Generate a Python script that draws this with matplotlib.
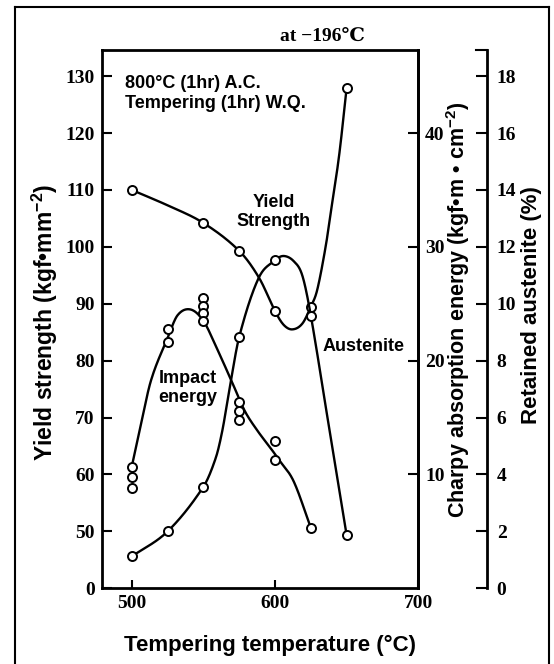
import numpy as np
import matplotlib
matplotlib.use("Agg")
import matplotlib.pyplot as plt
from matplotlib.lines import Line2D

# ---------------- data ----------------
# Yield strength (kgf/mm2) measured points
yield_T = [500, 550, 575, 600, 625, 650]
yield_V = [110.0, 104.2, 99.3, 88.7, 89.5, 128.0]
# hand-drawn yield strength curve, nodes
yield_curve_T = [500, 525, 550, 575, 589, 600, 606, 612, 619, 625, 629.4, 635.3, 638.8, 644.7, 650]
yield_curve_V = [110.0, 107.3, 104.2, 99.3, 94.5, 88.7, 86.3, 85.5, 86.5, 89.5, 92.4, 100.0, 105.9, 116.0, 128.0]

# Charpy absorption energy at -196 C (kgf.m/cm2) measured points
impact_T = [500, 500, 500, 525, 525, 550, 550, 550, 550, 575, 575, 575, 600, 600, 625]
impact_C = [10.7, 9.75, 8.85, 22.75, 21.65, 25.5, 24.8, 24.2, 23.5, 16.4, 15.6, 14.75, 12.9, 11.25, 5.3]
impact_curve_T = [500, 506, 513.5, 525, 532, 541, 550, 558.6, 569.7, 578.8, 588, 597, 603, 613, 625]
impact_curve_C = [10.7, 14.2, 18.3, 22.0, 24.0, 24.5, 23.5, 21.3, 18.2, 15.6, 13.8, 12.3, 11.25, 9.4, 5.3]

# Retained austenite (%) measured points
aust_T = [500, 525, 550, 575, 600, 625, 650]
aust_A = [1.12, 2.0, 3.57, 8.84, 11.53, 9.58, 1.86]
aust_curve_T = [500, 525, 550, 558.6, 563.2, 568, 575, 588.5, 600, 606, 613, 619, 625, 637.5, 650]
aust_curve_A = [1.12, 2.0, 3.57, 4.58, 5.54, 6.94, 8.84, 10.9, 11.53, 11.68, 11.5, 11.0, 9.58, 5.72, 1.86]

x_ticks = [500, 600, 700]
yield_ticks = [40, 50, 60, 70, 80, 90, 100, 110, 120, 130]
yield_tick_labels = ["0", "50", "60", "70", "80", "90", "100", "110", "120", "130"]
charpy_ticks = [10, 20, 30, 40]
aust_ticks = [0, 2, 4, 6, 8, 10, 12, 14, 16, 18]


def smooth(xn, yn, n=40):
    xn = np.asarray(xn, float)
    yn = np.asarray(yn, float)
    m = np.zeros_like(yn)
    m[1:-1] = (yn[2:] - yn[:-2]) / (xn[2:] - xn[:-2])
    m[0] = (yn[1] - yn[0]) / (xn[1] - xn[0])
    m[-1] = (yn[-1] - yn[-2]) / (xn[-1] - xn[-2])
    xs, ys = [], []
    for i in range(len(xn) - 1):
        h = xn[i + 1] - xn[i]
        t = np.linspace(0, 1, n, endpoint=False)
        h00 = 2 * t**3 - 3 * t**2 + 1
        h10 = t**3 - 2 * t**2 + t
        h01 = -2 * t**3 + 3 * t**2
        h11 = t**3 - t**2
        xs.append(xn[i] + t * h)
        ys.append(h00 * yn[i] + h10 * h * m[i] + h01 * yn[i + 1] + h11 * h * m[i + 1])
    xs.append([xn[-1]])
    ys.append([yn[-1]])
    return np.concatenate(xs), np.concatenate(ys)


plt.rcParams["mathtext.fontset"] = "custom"
plt.rcParams["mathtext.rm"] = "Liberation Sans:bold"
plt.rcParams["mathtext.bf"] = "Liberation Sans:bold"
plt.rcParams["mathtext.default"] = "bf"

W, H = 554, 664
fig = plt.figure(figsize=(W / 100, H / 100), dpi=100)


def px(x, y):
    return x / W, 1 - y / H


L, R, T, B = 101.7, 418.3, 50.0, 588.3
ax = fig.add_axes([L / W, 1 - B / H, (R - L) / W, (B - T) / H])
ax.set_xlim(479, 700)
ax.set_ylim(40, 134.6)
ax2 = ax.twinx()
ax2.set_ylim(0, 47.3)
ax3 = ax.twinx()
ax3.set_ylim(0, 18.92)
ax3.spines["right"].set_position(("axes", 1.217))

tickfont = dict(family=["Liberation Serif", "DejaVu Serif"], weight="bold", size=14)
labfont = dict(family=["Liberation Sans", "DejaVu Sans"], weight="bold")

for a in (ax, ax2, ax3):
    for s in a.spines.values():
        s.set_linewidth(2.0)
for s in ("top", "left", "bottom"):
    ax2.spines[s].set_visible(False)
    ax3.spines[s].set_visible(False)

ax.set_xticks(x_ticks)
ax.set_xticklabels([str(v) for v in x_ticks], fontdict=tickfont)
ax.set_yticks(yield_ticks)
ax.set_yticklabels(yield_tick_labels, fontdict=tickfont)
ax.tick_params(axis="both", direction="in", length=7, width=1.5, pad=5)
ax.tick_params(axis="x", length=6, pad=5)
ax.tick_params(right=False, top=False)

ax2.set_yticks(charpy_ticks)
ax2.set_yticklabels([str(v) for v in charpy_ticks], fontdict=tickfont)
ax2.tick_params(axis="y", direction="in", length=7, width=1.5, pad=5)

ax3.set_yticks(aust_ticks)
ax3.set_yticklabels([str(v) for v in aust_ticks], fontdict=tickfont)
ax3.tick_params(axis="y", direction="in", length=8, width=1.5, pad=7)
ax3.plot([1.217 - 0.035, 1.217], [1, 1], transform=ax3.transAxes, color="black",
         lw=1.5, clip_on=False)

# curves
lw = 1.7
xs, ys = smooth(yield_curve_T, yield_curve_V)
ax.plot(xs, ys, color="black", lw=lw, zorder=2)
xs, ys = smooth(impact_curve_T, impact_curve_C)
ax2.plot(xs, ys, color="black", lw=lw, zorder=2)
xs, ys = smooth(aust_curve_T, aust_curve_A)
ax3.plot(xs, ys, color="black", lw=lw, zorder=2)

mk = dict(marker="o", ls="none", mfc="white", mec="black", ms=6.5, mew=1.4, zorder=5, clip_on=False)
ax.plot(yield_T, yield_V, **mk)
ax2.plot(impact_T, impact_C, **mk)
ax3.plot(aust_T, aust_A, **mk)

# annotations
fig.text(*px(125, 88.3), "800°C (1hr) A.C.", fontsize=13, va="baseline", ha="left", **labfont)
fig.text(*px(125, 108.3), "Tempering (1hr) W.Q.", fontsize=13, va="baseline", ha="left", **labfont)
fig.text(*px(274, 212), "Yield\nStrength", fontsize=13, va="center", ha="center",
         linespacing=1.2, **labfont)
fig.text(*px(323, 347), "Austenite", fontsize=13, va="center", ha="left", **labfont)
fig.text(*px(188, 388), "Impact\nenergy", fontsize=13, va="center", ha="center",
         linespacing=1.2, **labfont)
fig.text(*px(322, 36), "at −196℃", fontsize=14, va="center", ha="center",
         family=["Liberation Serif", "DejaVu Serif"], weight="bold")

# axis labels
fig.text(*px(270, 645), "Tempering temperature (°C)", fontsize=16, va="center", ha="center", **labfont)
fig.text(*px(45, 322), "Yield strength (kgf•mm$^{-2}$)", fontsize=16.5, rotation=90,
         va="center", ha="center", **labfont)
fig.text(*px(458, 310), "Charpy absorption energy (kgf•m • cm$^{-2}$)", fontsize=15.5, rotation=90,
         va="center", ha="center", **labfont)
fig.text(*px(531, 305), "Retained austenite (%)", fontsize=16, rotation=90,
         va="center", ha="center", **labfont)

# outer frame
for (x0, y0, x1, y1) in [(15, 7, 15, 664), (15, 7, 549, 7), (549, 7, 549, 664)]:
    fig.add_artist(Line2D([x0 / W, x1 / W], [1 - y0 / H, 1 - y1 / H], color="black", lw=1.5))

fig.savefig("out.png", dpi=100)
